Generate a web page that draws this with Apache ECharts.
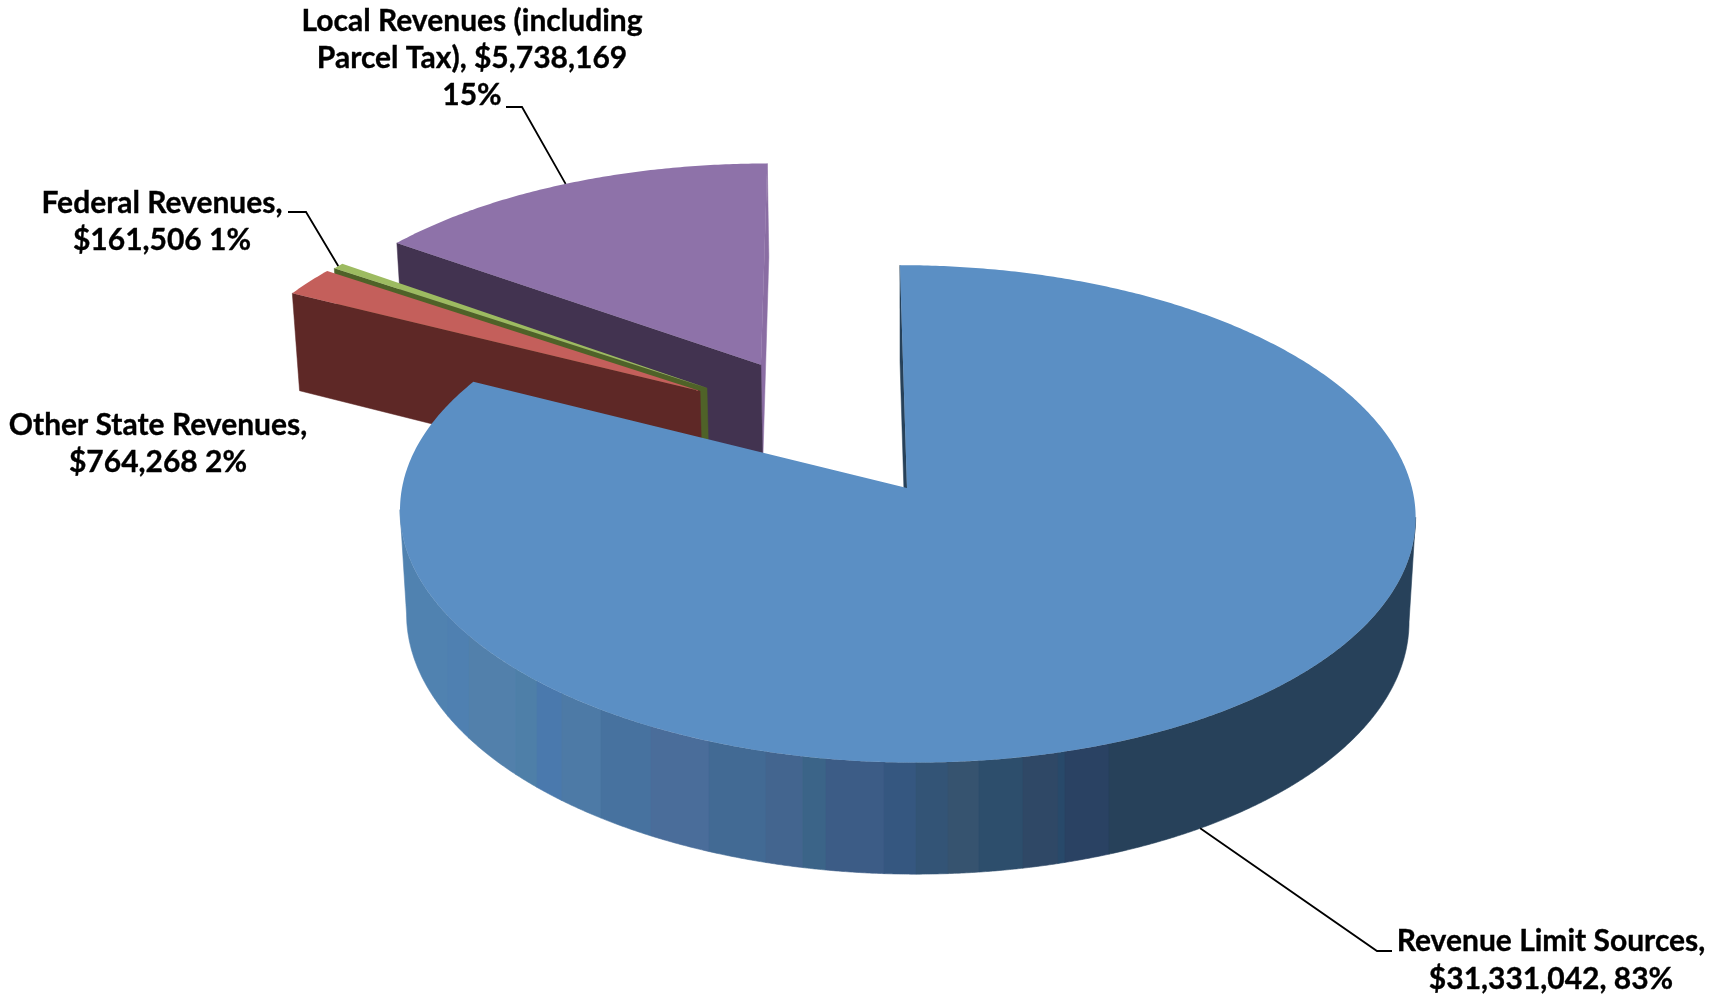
<!DOCTYPE html>
<html>
<head>
<meta charset="utf-8">
<title>Revenue sources</title>
<script src="https://cdn.jsdelivr.net/npm/echarts@6/dist/echarts.min.js"></script>
<style>
  html, body { margin: 0; padding: 0; background: #fff; }
  #chart { width: 1725px; height: 996px; }
</style>
</head>
<body>
<div id="chart"></div>
<script>
// Revenue figures, clockwise from twelve o'clock.
const categories = ['Revenue Limit Sources', 'Other State Revenues', 'Federal Revenues', 'Local Revenues (including\nParcel Tax)'];
const revenues = [31331042, 764268, 161506, 5738169];
const percentLabels = ['83%', '2%', '1%', '15%'];
const nameSeparators = [',\n', ',\n', ',\n', ', '];
const valueSeparators = [', ', ' ', ' ', '\n'];

// Camera for the tilted disc: world X runs right, world Z runs away from the viewer.
const camera = { cx: 907, cy: 488, scaleX: 505, skewX: -7.8, scaleZ: 246, perspective: 0.104, depth: 105, depthShrink: 0.013 };

// How far each wedge is pulled out of the disc, in disc radii.
const explodeX = [0, -0.421, -0.407, -0.297];
const explodeZ = [0, 0.411, 0.424, 0.529];

// Fills per wedge.
const topColors = ['#5b8fc4', '#c45f5b', '#9dbb61', '#8e72a9'];
const wallColors = ['#274159', '#5e2826', '#4f6228', '#423350'];
const farWallColors = [null, null, null, '#8a6da3'];

// Vertical shading bands on the front rim of the large wedge: [right edge in px, colour].
const rimShades = [
  [448, '#5082b0'], [469, '#4f80b1'], [516, '#5280ab'], [537, '#4e7fa8'], [562, '#4a79ad'],
  [601, '#4d7aa6'], [651, '#47729f'], [709, '#4a6d9a'], [766, '#426a94'], [803, '#43658f'],
  [826, '#3b6488'], [884, '#3c5c86'], [916, '#355780'], [948, '#335476'], [979, '#36536f'],
  [1023, '#2d4e6c'], [1058, '#2f4866'], [1065, '#28496a'], [1109, '#2a4263'], [9999, '#27415a']
];

// Label placement: line centres, line spacing, and leader bend points.
const labelCentres = [[1551, 941], [158, 425], [162, 203], [472, 21]];
const labelLineGap = [38, 37, 37, 37];
const leaderBends = [[[1392, 951], [1377, 951]], null, [[288, 212], [306, 212]], [[506, 107], [522, 107]]];
const labelFont = 'bold 30px Lato, "Open Sans", sans-serif';

// Wedges are painted back to front so the large one overlaps the others.
const paintOrder = [3, 2, 1, 0];

const total = revenues.reduce((a, b) => a + b, 0);
const angles = [];
revenues.reduce((acc, v) => {
  const next = acc + v / total * 360;
  angles.push([acc, next]);
  return next;
}, 0);

function project(X, Z, lower) {
  const c = camera;
  const w = 1 + c.perspective * Z + (lower ? c.depthShrink : 0);
  return [
    c.cx + (c.scaleX * X + c.skewX * Z) / w,
    c.cy + (-c.scaleZ * Z + (lower ? c.depth : 0)) / w
  ];
}

function rimPoint(i, deg, lower) {
  const r = deg * Math.PI / 180;
  return project(explodeX[i] + Math.sin(r), explodeZ[i] + Math.cos(r), lower);
}

function apexPoint(i, lower) {
  return project(explodeX[i], explodeZ[i], lower);
}

function wall(i, deg, fill) {
  return {
    type: 'polygon',
    shape: { points: [apexPoint(i, false), rimPoint(i, deg, false), rimPoint(i, deg, true), apexPoint(i, true)] },
    style: { fill: fill, stroke: fill, lineWidth: 0.5 }
  };
}

function topFace(i) {
  const pts = [apexPoint(i, false)];
  const [a, b] = angles[i];
  const steps = Math.ceil((b - a) * 2);
  for (let s = 0; s <= steps; s++) pts.push(rimPoint(i, a + (b - a) * s / steps, false));
  return { type: 'polygon', shape: { points: pts }, style: { fill: topColors[i] } };
}

// Rim outline running right to left between its two side tangents.
function silhouette(i, lower) {
  const pts = [];
  for (let d = angles[i][0]; d <= angles[i][1]; d += 0.25) pts.push(rimPoint(i, d, lower));
  let from = 0, to = 0;
  pts.forEach((p, n) => {
    if (p[0] > pts[from][0]) from = n;
    if (p[0] < pts[to][0]) to = n;
  });
  return pts.slice(from, to + 1);
}

// Part of a right-to-left outline lying between two x positions, with exact end points.
function spanByX(line, left, right) {
  const out = [];
  const at = (a, b, x) => [x, a[1] + (b[1] - a[1]) * (x - a[0]) / (b[0] - a[0])];
  line.forEach((p, n) => {
    const prev = line[n - 1];
    if (prev && prev[0] > right && p[0] <= right) out.push(at(prev, p, right));
    if (p[0] <= right && p[0] >= left) out.push(p);
    if (prev && prev[0] >= left && p[0] < left) out.push(at(prev, p, left));
  });
  return out;
}

function rimBands(i) {
  const upper = silhouette(i, false);
  const lower = silhouette(i, true);
  const out = [];
  rimShades.forEach(([right, colour], n) => {
    const left = n ? rimShades[n - 1][0] : 0;
    const a = spanByX(upper, left, right);
    const b = spanByX(lower, left, right);
    if (a.length + b.length > 2) {
      out.push({
        type: 'polygon',
        shape: { points: a.concat(b.reverse()) },
        style: { fill: colour, stroke: colour, lineWidth: 0.6 }
      });
    }
  });
  return out;
}

function labelLines(i) {
  const text = categories[i] + nameSeparators[i] + '$' + revenues[i].toLocaleString('en-US') + valueSeparators[i] + percentLabels[i];
  return text.split('\n');
}

function labelElements(i) {
  const [x, y] = labelCentres[i];
  const els = labelLines(i).map((line, n) => ({
    type: 'text',
    style: {
      text: line, x: x, y: y + n * labelLineGap[i],
      font: labelFont, fill: '#000', stroke: '#000', lineWidth: 0.35,
      textAlign: 'center', textVerticalAlign: 'middle'
    },
    z2: 10
  }));
  if (leaderBends[i]) {
    const mid = (angles[i][0] + angles[i][1]) / 2;
    // The large wedge is tagged on its lower rim, the others on the upper rim.
    const anchor = rimPoint(i, mid, i === 0);
    els.push({
      type: 'polyline',
      shape: { points: leaderBends[i].concat([anchor]) },
      style: { stroke: '#000', lineWidth: 1.8, fill: null },
      z2: 10
    });
  }
  return els;
}

function renderItem(params, api) {
  const i = api.value(0);
  const children = [];
  if (i === 0) children.push(...labelElements(i));
  if (farWallColors[i]) children.push(wall(i, angles[i][1], farWallColors[i]));
  children.push(wall(i, angles[i][0], wallColors[i]));
  if (i === 0) children.push(...rimBands(i));
  children.push(topFace(i));
  if (i !== 0) children.push(...labelElements(i));
  return { type: 'group', children: children };
}

const chart = echarts.init(document.getElementById('chart'), null, { renderer: 'canvas' });
chart.setOption({
  backgroundColor: '#ffffff',
  animation: false,
  series: [{
    type: 'custom',
    coordinateSystem: 'none',
    renderItem: renderItem,
    silent: true,
    data: paintOrder.map(i => [i, revenues[i]])
  }]
});
</script>
</body>
</html>
